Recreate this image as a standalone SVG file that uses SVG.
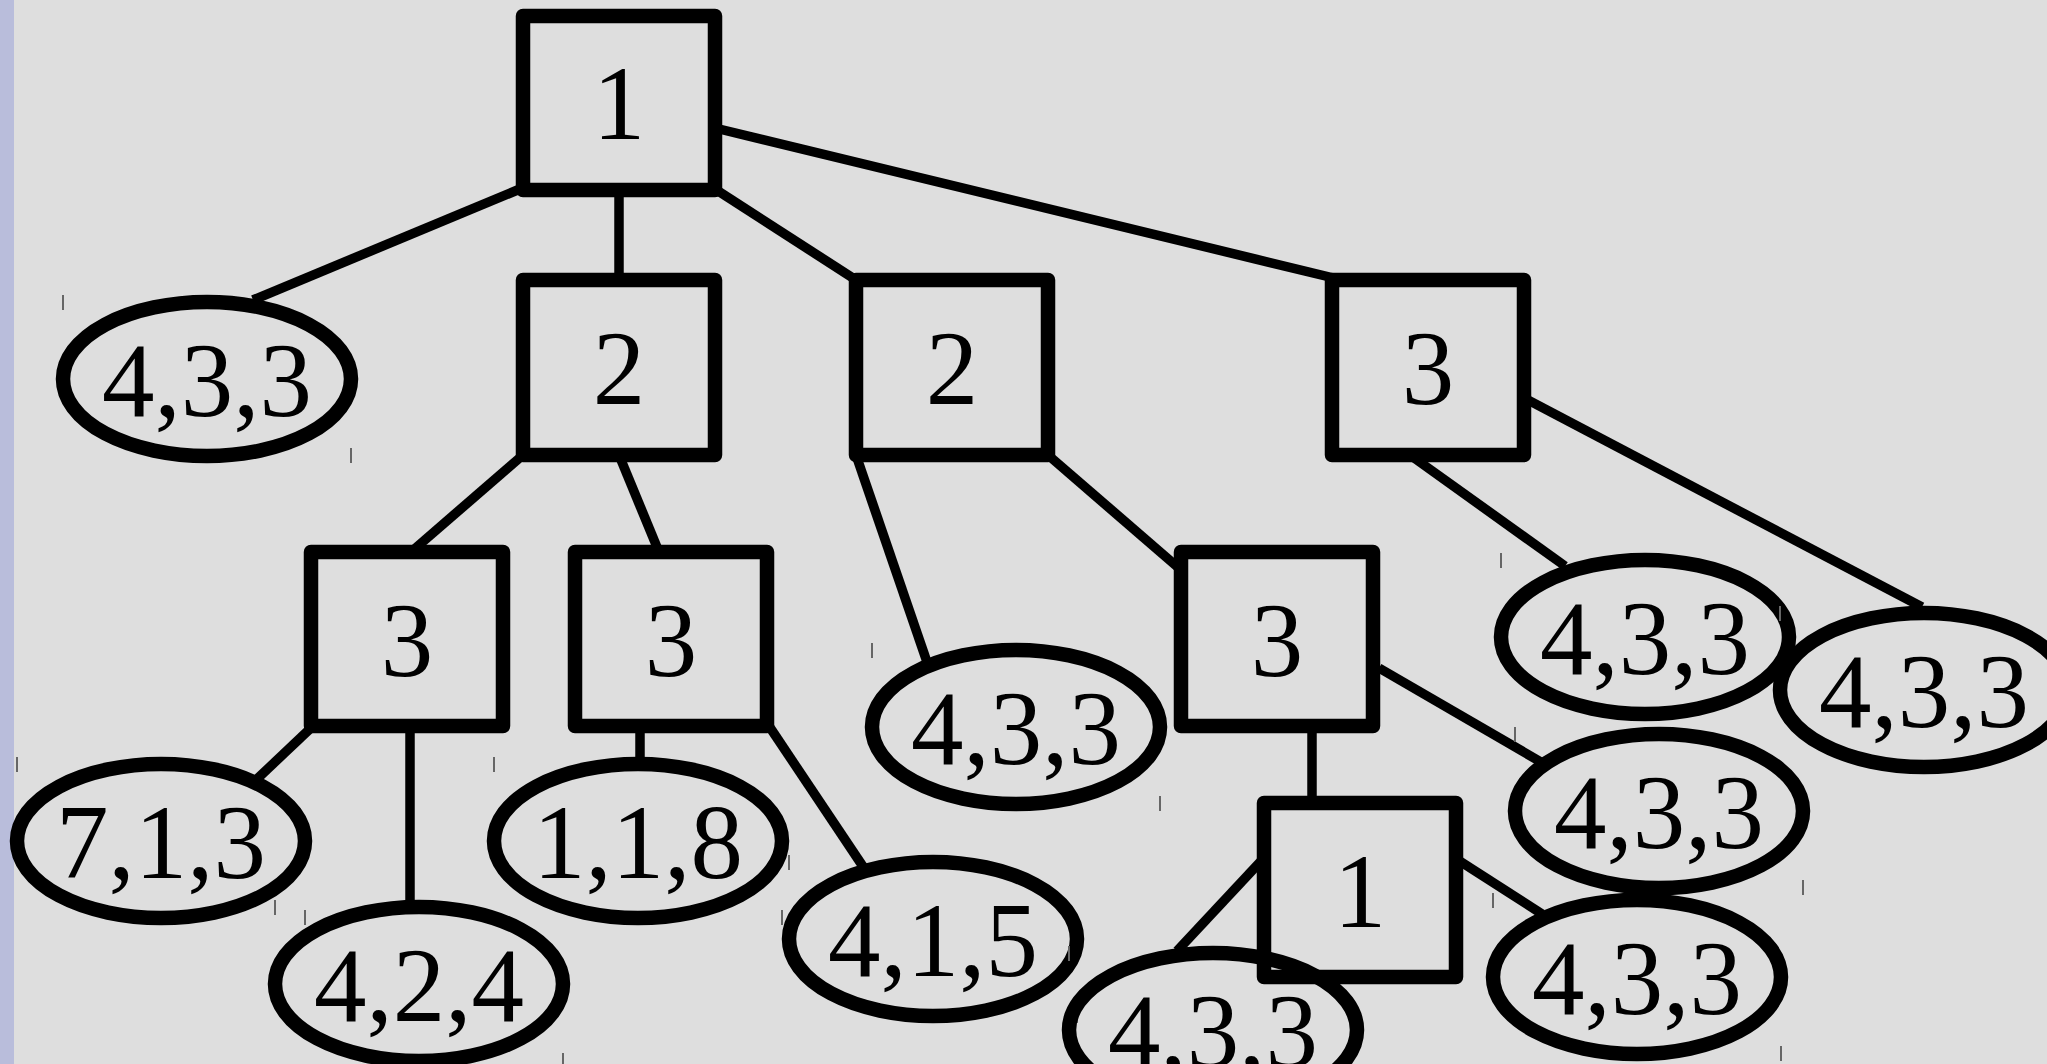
<svg xmlns="http://www.w3.org/2000/svg" width="2047" height="1064" viewBox="0 0 2047 1064">
<style>
.box{fill:none;stroke:#000;stroke-width:14.5;stroke-linejoin:round}
.ell{fill:none;stroke:#000;stroke-width:14.5}
.lbl{font-family:"Liberation Serif","Times New Roman",serif;font-size:105px;fill:#000;text-anchor:middle}
.edge{stroke:#000;stroke-width:9.5;fill:none}
.tick{stroke:#666;stroke-width:2}
</style>
<rect x="0" y="0" width="2047" height="1064" fill="#dedede"/>
<rect x="0" y="0" width="14" height="1064" fill="#b9bddb"/>
<g id="connectors">
<line class="edge" x1="520" y1="189" x2="253" y2="300"/>
<line class="edge" x1="619" y1="189" x2="619" y2="280"/>
<line class="edge" x1="715" y1="189" x2="856" y2="280"/>
<line class="edge" x1="715" y1="128" x2="1342" y2="280"/>
<line class="edge" x1="523" y1="455" x2="411" y2="552"/>
<line class="edge" x1="619" y1="455" x2="659" y2="552"/>
<line class="edge" x1="313" y1="726" x2="257" y2="779"/>
<line class="edge" x1="410" y1="726" x2="410" y2="907"/>
<line class="edge" x1="640" y1="726" x2="640" y2="764"/>
<line class="edge" x1="769" y1="726" x2="864" y2="868"/>
<line class="edge" x1="856" y1="455" x2="927" y2="662"/>
<line class="edge" x1="1048" y1="455" x2="1181" y2="570"/>
<line class="edge" x1="1410" y1="455" x2="1565" y2="566"/>
<line class="edge" x1="1524" y1="398" x2="1922" y2="607"/>
<line class="edge" x1="1379" y1="668" x2="1541" y2="762"/>
<line class="edge" x1="1312" y1="726" x2="1312" y2="803"/>
<line class="edge" x1="1262" y1="860" x2="1177" y2="951"/>
<line class="edge" x1="1458" y1="860" x2="1542" y2="914"/>
</g>
<g id="b-root"><rect class="box" x="523" y="16" width="192" height="174"/><text class="lbl" x="619" y="139">1</text></g>
<g id="b-2l"><rect class="box" x="523" y="280" width="192" height="175"/><text class="lbl" x="619" y="404">2</text></g>
<g id="b-2m"><rect class="box" x="856" y="280" width="192" height="175"/><text class="lbl" x="952" y="404">2</text></g>
<g id="b-3r"><rect class="box" x="1332" y="280" width="192" height="175"/><text class="lbl" x="1428" y="404">3</text></g>
<g id="b-3l"><rect class="box" x="311" y="552" width="192" height="174"/><text class="lbl" x="407" y="676">3</text></g>
<g id="b-3l2"><rect class="box" x="575" y="552" width="192" height="174"/><text class="lbl" x="671" y="676">3</text></g>
<g id="b-3m"><rect class="box" x="1181" y="552" width="192" height="174"/><text class="lbl" x="1277" y="676">3</text></g>
<g id="e1"><ellipse class="ell" cx="207" cy="379" rx="144" ry="77"/><text class="lbl" x="207" y="416">4,3,3</text><line class="tick" x1="63" y1="295" x2="63" y2="310"/><line class="tick" x1="351" y1="448" x2="351" y2="463"/></g>
<g id="e713"><ellipse class="ell" cx="161" cy="841" rx="144" ry="77"/><text class="lbl" x="161" y="878">7,1,3</text><line class="tick" x1="17" y1="757" x2="17" y2="772"/><line class="tick" x1="305" y1="910" x2="305" y2="925"/></g>
<g id="e424"><ellipse class="ell" cx="419" cy="984" rx="144" ry="77"/><text class="lbl" x="419" y="1021">4,2,4</text><line class="tick" x1="275" y1="900" x2="275" y2="915"/><line class="tick" x1="563" y1="1053" x2="563" y2="1068"/></g>
<g id="e118"><ellipse class="ell" cx="638" cy="841" rx="144" ry="77"/><text class="lbl" x="638" y="878">1,1,8</text><line class="tick" x1="494" y1="757" x2="494" y2="772"/><line class="tick" x1="782" y1="910" x2="782" y2="925"/></g>
<g id="e415"><ellipse class="ell" cx="933" cy="939" rx="144" ry="77"/><text class="lbl" x="933" y="976">4,1,5</text><line class="tick" x1="789" y1="855" x2="789" y2="870"/><line class="tick" x1="1077" y1="1008" x2="1077" y2="1023"/></g>
<g id="e433m"><ellipse class="ell" cx="1016" cy="727" rx="144" ry="77"/><text class="lbl" x="1016" y="764">4,3,3</text><line class="tick" x1="872" y1="643" x2="872" y2="658"/><line class="tick" x1="1160" y1="796" x2="1160" y2="811"/></g>
<g id="e433rt"><ellipse class="ell" cx="1645" cy="637" rx="144" ry="77"/><text class="lbl" x="1645" y="674">4,3,3</text><line class="tick" x1="1501" y1="553" x2="1501" y2="568"/><line class="tick" x1="1789" y1="706" x2="1789" y2="721"/></g>
<g id="e433fr"><ellipse class="ell" cx="1924" cy="690" rx="144" ry="77"/><text class="lbl" x="1924" y="727">4,3,3</text><line class="tick" x1="1780" y1="606" x2="1780" y2="621"/></g>
<g id="e433rm"><ellipse class="ell" cx="1659" cy="811" rx="144" ry="77"/><text class="lbl" x="1659" y="848">4,3,3</text><line class="tick" x1="1515" y1="727" x2="1515" y2="742"/><line class="tick" x1="1803" y1="880" x2="1803" y2="895"/></g>
<g id="e433rb"><ellipse class="ell" cx="1637" cy="977" rx="144" ry="77"/><text class="lbl" x="1637" y="1014">4,3,3</text><line class="tick" x1="1493" y1="893" x2="1493" y2="908"/><line class="tick" x1="1781" y1="1046" x2="1781" y2="1061"/></g>
<g id="e433b"><ellipse class="ell" cx="1213" cy="1030" rx="144" ry="77"/><text class="lbl" x="1213" y="1067">4,3,3</text><line class="tick" x1="1069" y1="946" x2="1069" y2="961"/></g>
<g id="b-1"><rect class="box" x="1264" y="803" width="192" height="174"/><text class="lbl" x="1360" y="927">1</text></g>
</svg>
